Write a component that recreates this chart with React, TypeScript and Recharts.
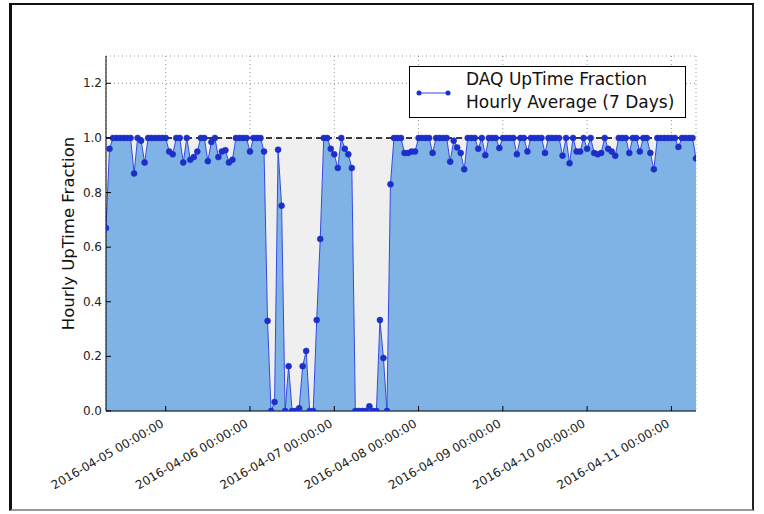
import React from "react";
import {
  ComposedChart,
  Area,
  Line,
  XAxis,
  YAxis,
  CartesianGrid,
  ReferenceLine,
} from "recharts";

// first sample is 2016-04-04 07:00, one point per hour (hours since 04-04 00:00)
const startHour = 7;

const uptime = [
  0.67, 0.96, 1, 1, 1, 1, 1, 1, 0.87, 1, 0.99, 0.91, 1, 1, 1, 1, 1, 1, 0.95, 0.94,
  1, 1, 0.91, 1, 0.92, 0.93, 0.95, 1, 1, 0.915, 0.985, 1, 0.93, 0.95, 0.955, 0.91, 0.92, 1, 1, 1,
  1, 0.95, 1, 1, 1, 0.95, 0.33, 0, 0.033, 0.957, 0.752, 0, 0.164, 0, 0, 0.01, 0.164, 0.22, 0, 0,
  0.333, 0.63, 1, 1, 0.96, 0.94, 0.89, 1, 0.96, 0.94, 0.89, 0, 0, 0, 0, 0.017, 0, 0, 0.333, 0.194,
  0, 0.83, 1, 1, 1, 0.945, 0.945, 0.95, 0.95, 1, 1, 1, 1, 0.945, 1, 1, 1, 1, 0.913, 0.99,
  0.965, 0.945, 0.885, 1, 1, 1, 0.96, 1, 0.937, 1, 1, 1, 0.963, 1, 1, 1, 1, 0.94, 1, 1,
  0.95, 1, 1, 1, 1, 0.945, 1, 1, 1, 1, 0.935, 1, 0.907, 1, 0.95, 0.95, 1, 0.96, 1, 0.945,
  0.94, 0.945, 1, 0.96, 0.95, 0.935, 1, 1, 1, 0.945, 1, 1, 0.95, 1, 1, 0.945, 0.885, 1, 1, 1,
  1, 1, 1, 0.967, 1, 1, 1, 1, 0.925,
];

const xTicks = [24, 48, 72, 96, 120, 144, 168];
const xTickLabels = [
  "2016-04-05 00:00:00",
  "2016-04-06 00:00:00",
  "2016-04-07 00:00:00",
  "2016-04-08 00:00:00",
  "2016-04-09 00:00:00",
  "2016-04-10 00:00:00",
  "2016-04-11 00:00:00",
];
const yTicks = [0, 0.2, 0.4, 0.6, 0.8, 1.0, 1.2];

const data = uptime.map((v, i) => ({ t: startHour + i, value: v, gap: 1 - v }));

const FONT = "'DejaVu Sans', sans-serif";

function BottomTick(props: any) {
  const { x, y, payload } = props;
  const idx = xTicks.indexOf(payload.value);
  const ax = x - 1;
  const ay = y + 15;
  return (
    <g>
      <line x1={x} y1={y} x2={x} y2={y - 5} stroke="#000" />
      <text
        x={ax}
        y={ay}
        textAnchor="end"
        fontSize={12}
        fontFamily={FONT}
        fill="#222"
        transform={`rotate(-30, ${ax}, ${ay})`}
      >
        {xTickLabels[idx]}
      </text>
    </g>
  );
}

function TopTick(props: any) {
  const { x, y } = props;
  return <line x1={x} y1={y} x2={x} y2={y + 5} stroke="#000" />;
}

function LeftTick(props: any) {
  const { x, y, payload } = props;
  return (
    <g>
      <line x1={x} y1={y} x2={x + 5} y2={y} stroke="#000" />
      <text x={x - 4} y={y + 4} textAnchor="end" fontSize={12} fontFamily={FONT} fill="#222">
        {payload.value.toFixed(1)}
      </text>
    </g>
  );
}

function RightTick(props: any) {
  const { x, y } = props;
  return <line x1={x} y1={y} x2={x - 5} y2={y} stroke="#000" />;
}

export default function App() {
  return (
    <div
      style={{
        position: "absolute",
        left: 0,
        top: 0,
        width: 764,
        height: 514,
        background: "#fff",
        fontFamily: FONT,
        overflow: "hidden",
      }}
    >
      {/* outer frame of the screenshot */}
      <div
        style={{
          position: "absolute",
          left: 9,
          top: 3,
          width: 740,
          height: 504,
          borderLeft: "3px solid #111",
          borderTop: "2px solid #111",
          borderRight: "2px solid #222",
          borderBottom: "2px solid #999",
        }}
      />
      <ComposedChart
        width={764}
        height={514}
        data={data}
        margin={{ top: 56, right: 68, left: 56, bottom: 23 }}
        style={{ position: "absolute", left: 0, top: 0 }}
      >
        <XAxis
          dataKey="t"
          type="number"
          domain={[startHour, startHour + uptime.length - 1]}
          ticks={xTicks}
          interval={0}
          allowDataOverflow
          height={80}
          tickSize={0}
          tickMargin={0}
          tickLine={false}
          axisLine={{ stroke: "#000" }}
          tick={(p: any) => <BottomTick {...p} />}
        />
        <XAxis
          xAxisId="top"
          orientation="top"
          dataKey="t"
          type="number"
          domain={[startHour, startHour + uptime.length - 1]}
          ticks={xTicks}
          interval={0}
          allowDataOverflow
          height={0}
          tickSize={0}
          tickMargin={0}
          tickLine={false}
          axisLine={{ stroke: "#000" }}
          tick={(p: any) => <TopTick {...p} />}
        />
        <YAxis
          type="number"
          domain={[0, 1.3]}
          ticks={yTicks}
          interval={0}
          allowDataOverflow
          width={50}
          tickSize={0}
          tickMargin={0}
          tickLine={false}
          axisLine={{ stroke: "#000" }}
          tick={(p: any) => <LeftTick {...p} />}
          label={{
            content: () => (
              <text
                x={68}
                y={233.5}
                textAnchor="middle"
                dominantBaseline="central"
                fontSize={16.5}
                fontFamily={FONT}
                fill="#111"
                transform="rotate(-90, 68, 233.5)"
              >
                Hourly UpTime Fraction
              </text>
            ),
          }}
        />
        <YAxis
          yAxisId="r"
          orientation="right"
          type="number"
          domain={[0, 1.3]}
          ticks={yTicks}
          interval={0}
          allowDataOverflow
          width={0}
          tickSize={0}
          tickMargin={0}
          tickLine={false}
          axisLine={{ stroke: "#000" }}
          tick={(p: any) => <RightTick {...p} />}
        />
        <Area
          type="linear"
          dataKey="value"
          stackId="a"
          stroke="none"
          fill="#7fb3e6"
          fillOpacity={1}
          isAnimationActive={false}
        />
        <Area
          type="linear"
          dataKey="gap"
          stackId="a"
          stroke="none"
          fill="#efefef"
          fillOpacity={1}
          isAnimationActive={false}
        />
        <CartesianGrid stroke="#666" strokeOpacity={0.7} strokeDasharray="1 3" />
        <ReferenceLine y={1} stroke="#000" strokeWidth={1.5} strokeDasharray="6 4" />
        <Line
          type="linear"
          dataKey="value"
          stroke="#3347e0"
          strokeWidth={1}
          dot={{ r: 3, fill: "#1c2fc8", stroke: "#1c2fc8", strokeWidth: 0.5 }}
          isAnimationActive={false}
        />
      </ComposedChart>
      {/* legend box */}
      <div
        style={{
          position: "absolute",
          left: 409,
          top: 66,
          width: 275,
          height: 50,
          border: "1px solid #000",
          background: "#fff",
        }}
      >
        <svg width={50} height={50} style={{ position: "absolute", left: 0, top: 0 }}>
          <line x1={9} y1={26} x2={38} y2={26} stroke="#3347e0" strokeWidth={1} />
          <circle cx={9} cy={26} r={2.5} fill="#1c2fc8" />
          <circle cx={38} cy={26} r={2.5} fill="#1c2fc8" />
        </svg>
        <div
          style={{
            position: "absolute",
            left: 56,
            top: 1,
            fontSize: 17,
            lineHeight: "23px",
            color: "#111",
            whiteSpace: "nowrap",
          }}
        >
          <div>DAQ UpTime Fraction</div>
          <div>Hourly Average (7 Days)</div>
        </div>
      </div>
    </div>
  );
}
